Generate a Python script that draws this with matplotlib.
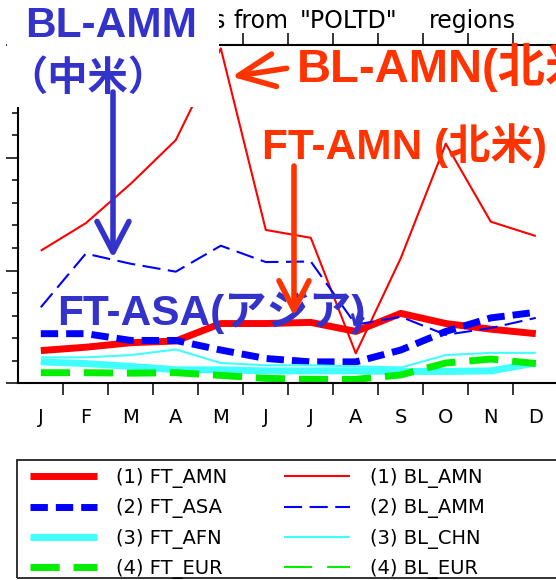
import numpy as np
import matplotlib
matplotlib.use('Agg')
import matplotlib.pyplot as plt
from matplotlib.patches import Rectangle, FancyArrowPatch

# monthly values (y axis 0..3)
months = ['J', 'F', 'M', 'A', 'M', 'J', 'J', 'A', 'S', 'O', 'N', 'D']
ft_amn = [0.29, 0.32, 0.36, 0.375, 0.53, 0.53, 0.54, 0.46, 0.62, 0.53, 0.48, 0.44]
ft_asa = [0.44, 0.44, 0.38, 0.38, 0.295, 0.22, 0.19, 0.19, 0.295, 0.46, 0.58, 0.63]
ft_afn = [0.19, 0.175, 0.15, 0.12, 0.12, 0.11, 0.11, 0.11, 0.105, 0.105, 0.11, 0.18]
ft_eur = [0.094, 0.094, 0.09, 0.094, 0.07, 0.044, 0.035, 0.035, 0.074, 0.18, 0.215, 0.175]
bl_amn = [1.176, 1.42, 1.77, 2.157, 2.97, 1.36, 1.29, 0.266, 1.11, 2.125, 1.433, 1.306]
bl_amm = [0.674, 1.15, 1.06, 0.99, 1.22, 1.075, 1.08, 0.52, 0.59, 0.43, 0.49, 0.58]
bl_chn = [0.23, 0.23, 0.25, 0.30, 0.18, 0.16, 0.16, 0.15, 0.14, 0.25, 0.27, 0.27]
bl_eur = [0.18, 0.17, 0.15, 0.12, 0.12, 0.11, 0.11, 0.11, 0.105, 0.11, 0.115, 0.17]

labels = ['(1) FT_AMN', '(2) FT_ASA', '(3) FT_AFN', '(4) FT_EUR',
          '(1) BL_AMN', '(2) BL_AMM', '(3) BL_CHN', '(4) BL_EUR']
values = [ft_amn, ft_asa, ft_afn, ft_eur, bl_amn, bl_amm, bl_chn, bl_eur]
colors = ['#ff0000', '#0000ff', '#40ffff', '#00ee00',
          '#ff0000', '#0000ff', '#40ffff', '#00ee00']
widths = [5, 5, 5, 5, 1.5, 1.5, 1.5, 1.5]
dashes = ['-', (0, (2.5, 1.15)), '-', (0, (4.2, 2.0)),
          '-', (0, (8.7, 3.6)), '-', (0, (13.5, 7.2))]
zorders = [2, 3, 2, 2, 4, 4, 4, 1]

BLUE = '#3333cc'
RED = '#ff3300'

W, H = 556, 580
fig = plt.figure(figsize=(W / 100, H / 100), dpi=100)


def fx(x):
    return x / W


def fy(y):
    return 1 - y / H


ax = fig.add_axes([fx(18.3), fy(383.3), (558.3 - 18.3) / W, (383.3 - 45) / H])
xs = np.arange(len(months)) + 0.5
for lab, v, c, lw, ls, z in zip(labels, values, colors, widths, dashes, zorders):
    ax.plot(xs, v, color=c, lw=lw, ls=ls, label=lab, zorder=z,
            solid_capstyle='butt', dash_capstyle='butt')

ax.set_xlim(0, 12)
ax.set_ylim(0, 3)
ax.set_xticks(np.arange(1, 12))
ax.set_xticks(xs, minor=True)
ax.set_xticklabels(months, minor=True)
ax.set_yticks([0, 1, 2, 3])
ax.set_yticks(np.arange(0, 3.01, 0.2), minor=True)
ax.tick_params(axis='x', which='major', direction='out', length=8.6, width=1.1,
               top=True, labelbottom=False)
ax.tick_params(axis='x', which='minor', length=0, pad=18, labelsize=14,
               top=False)
ax.tick_params(axis='y', which='major', direction='out', length=8.6, width=1.1,
               labelleft=False)
ax.tick_params(axis='y', which='minor', direction='out', length=4.3, width=1.1)
for lbl in ax.get_xticklabels(minor=True):
    lbl.set_family('DejaVu Sans')
for s in ax.spines.values():
    s.set_linewidth(1.5)

# legend (two columns) with its own frame
h, l = ax.get_legend_handles_labels()
fig.legend(h, l, loc='upper left', bbox_to_anchor=(fx(30), fy(468)), ncol=2,
           frameon=False, fontsize=14, handlelength=3.43, handletextpad=1.0,
           columnspacing=2.9, labelspacing=0.53, borderpad=0, borderaxespad=0)
fig.add_artist(Rectangle((fx(16.7), fy(578)), (620 - 16.7) / W, (578 - 460) / H,
                         transform=fig.transFigure, fill=False,
                         edgecolor='#222222', lw=1.3))

# title (left part hidden under the label box)
for word, x0 in [('s', 213), ('from', 234), ('"POLTD"', 300), ('regions', 429)]:
    fig.text(fx(x0), fy(28.3), word, fontsize=17, family='DejaVu Sans',
             va='baseline', zorder=1)

fig.add_artist(Rectangle((fx(7), fy(107)), (219 - 7) / W, 107 / H,
                         transform=fig.transFigure, facecolor='white',
                         edgecolor='none', zorder=3))

jp = dict(family=['Liberation Sans', 'Noto Sans CJK JP'], weight='bold',
          va='baseline', zorder=5)
fig.text(fx(25), fy(37), 'BL-AMM', fontsize=30.5, color=BLUE, **jp)
fig.text(fx(88), fy(90), '（中米）', fontsize=29, color=BLUE, ha='center', **jp)
fig.text(fx(297), fy(82), 'BL-AMN(北米)', fontsize=34, color=RED, **jp)
fig.text(fx(262), fy(158.5), 'FT-AMN (北米)', fontsize=30.5, color=RED, **jp)
fig.text(fx(57), fy(325), 'FT-ASA(アジア)', fontsize=30.5, color=BLUE, **jp)


def arrow(tail, tip, color, lw, hl, hw):
    a = FancyArrowPatch((fx(tail[0]), fy(tail[1])), (fx(tip[0]), fy(tip[1])),
                        transform=fig.transFigure, color=color, lw=lw,
                        arrowstyle='->,head_length=%g,head_width=%g' % (hl, hw),
                        mutation_scale=1, shrinkA=0, shrinkB=0, zorder=6,
                        capstyle='round', joinstyle='round')
    fig.add_artist(a)


arrow((113, 92), (113, 258), BLUE, 4, 22, 11.5)
arrow((286.7, 68.3), (231.7, 76.7), RED, 4, 26, 11.8)
arrow((294, 166), (294, 316), RED, 4, 21, 10.8)
arrow((361, 308), (354, 327), BLUE, 2.2, 6, 4)

fig.savefig('out.png', dpi=100)
